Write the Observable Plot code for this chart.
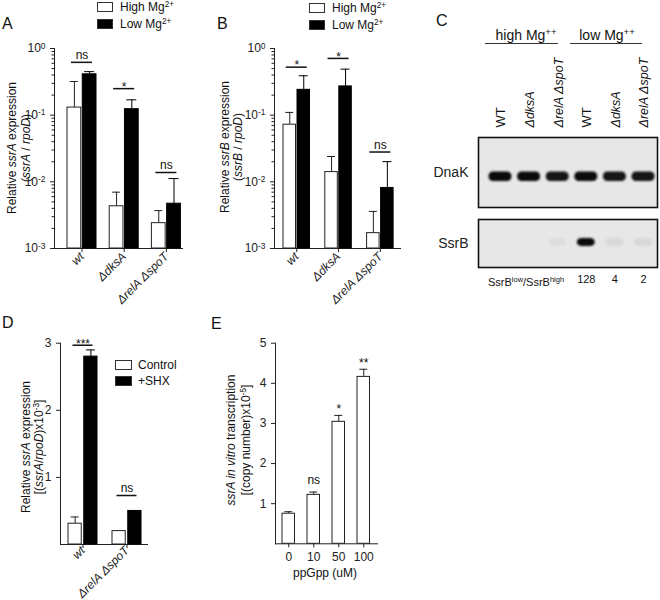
<!DOCTYPE html>
<html>
<head>
<meta charset="utf-8">
<script src="https://cdn.jsdelivr.net/npm/d3@7"></script>
<script src="https://cdn.jsdelivr.net/npm/@observablehq/plot@0.6"></script>
<style>
html,body{margin:0;padding:0;background:#fff;}
#fig{position:relative;width:660px;height:600px;overflow:hidden;font-family:"Liberation Sans",Arial,Helvetica,sans-serif;color:#111;}
#fig svg{position:absolute;}
.t{position:absolute;white-space:nowrap;line-height:1;}
.rot{position:absolute;white-space:nowrap;line-height:1;transform:translate(-50%,-50%) rotate(-90deg);font-size:12px;}
.sup{font-size:0.68em;vertical-align:0.5em;}
.sw{position:absolute;border:1px solid #333;box-sizing:border-box;}
.hl{position:absolute;height:0;border-top:1px solid #333;}
</style>
</head>
<body><div id="fig"></div>
<script>
// ---------------- DATA ----------------
// Panel A: ssrA / rpoD under high vs low Mg2+
const groupsMg = ["wt", "ΔdksA", "ΔrelA ΔspoT"];
const ssrA_high = [0.13, 0.0043, 0.0024];
const ssrA_highSD = [0.19, 0.0027, 0.0013];
const ssrA_low = [0.41, 0.123, 0.0047];
const ssrA_lowSD = [0.04, 0.047, 0.0065];
const ssrA_sig = ["ns", "*", "ns"];
const ssrA_sigY = [0.62, 0.25, 0.0138];

// Panel B: ssrB / rpoD
const ssrB_high = [0.072, 0.014, 0.0017];
const ssrB_highSD = [0.038, 0.010, 0.0019];
const ssrB_low = [0.24, 0.27, 0.0081];
const ssrB_lowSD = [0.15, 0.22, 0.012];
const ssrB_sig = ["*", "*", "ns"];
const ssrB_sigY = [0.525, 0.71, 0.028];

const logTicks = [1e-3, 1e-2, 1e-1, 1];

// Panel C: western blot
const laneIds = ["hWT", "hdksA", "hrelA", "lWT", "ldksA", "lrelA"];
const laneLabels = ["WT", "ΔdksA", "ΔrelA ΔspoT", "WT", "ΔdksA", "ΔrelA ΔspoT"];
const dnakSignal = [1, 1, 0.95, 1, 0.95, 0.95];
const ssrbSignal = [0, 0, 0.035, 1, 0.07, 0.07];
const ssrbRatio = ["", "", "", "128", "4", "2"];

// Panel D: SHX treatment
const groupsShx = ["wt", "ΔrelA ΔspoT"];
const shx_control = [0.31, 0.20];
const shx_controlSD = [0.10, 0];
const shx_treated = [2.80, 0.50];
const shx_treatedSD = [0.10, 0];
const shx_sig = ["***", "ns"];
const shx_sigY = [2.97, 0.73];

// Panel E: in vitro transcription
const ppGpp = ["0", "10", "50", "100"];
const transcription = [0.75, 1.22, 3.04, 4.16];
const transcriptionSD = [0.05, 0.07, 0.16, 0.19];
const transcriptionSig = ["", "ns", "*", "**"];

// ---------------- HELPERS ----------------
const fig = document.getElementById("fig");
const INK = "#222";
const FONT = '"Liberation Sans", Arial, Helvetica, sans-serif';

function place(svg, left, top) {
  svg.style.left = left + "px";
  svg.style.top = top + "px";
  fig.appendChild(svg);
  return svg;
}
function txt(x, y, html, fs, extra) {
  const d = document.createElement("div");
  d.className = "t";
  d.style.left = x + "px";
  d.style.top = y + "px";
  d.style.fontSize = fs + "px";
  if (extra) Object.assign(d.style, extra);
  d.innerHTML = html;
  fig.appendChild(d);
  return d;
}
function rot(cx, cy, html, fs) {
  const d = document.createElement("div");
  d.className = "rot";
  d.style.left = cx + "px";
  d.style.top = cy + "px";
  if (fs) d.style.fontSize = fs + "px";
  d.innerHTML = html;
  fig.appendChild(d);
}
function swatch(x, y, w, h, fill) {
  const d = document.createElement("div");
  d.className = "sw";
  Object.assign(d.style, {left: x + "px", top: y + "px", width: w + "px", height: h + "px", background: fill});
  fig.appendChild(d);
}
function hline(x1, x2, y) {
  const d = document.createElement("div");
  d.className = "hl";
  Object.assign(d.style, {left: x1 + "px", top: y + "px", width: (x2 - x1) + "px"});
  fig.appendChild(d);
}
function bandOpts(domain, L) {
  const n = domain.length, W = L.frameR - L.frameL;
  const O = W - (n - 1) * L.step - L.bw;
  return {domain, round: false, paddingInner: 1 - L.bw / L.step, paddingOuter: O / (2 * L.step), align: (L.bandStart - L.frameL) / O};
}
function postProcess(svg, italics) {
  svg.querySelectorAll("text").forEach(t => {
    if (t.querySelector("tspan")) return;
    const s = t.textContent;
    const m = /^10\^(-?\d+)$/.exec(s);
    if (m) {
      t.textContent = "10";
      const ts = document.createElementNS("http://www.w3.org/2000/svg", "tspan");
      ts.setAttribute("dy", "-0.45em");
      ts.setAttribute("font-size", "0.7em");
      ts.textContent = m[1];
      t.appendChild(ts);
    }
    if (italics && italics.includes(s)) t.setAttribute("font-style", "italic");
  });
}
function baseStyle(fs) {
  return {background: "transparent", overflow: "visible", fontFamily: FONT, fontSize: fs + "px", color: INK};
}

// ---------------- PAIRED BAR PANEL ----------------
function pairedPanel(cfg) {
  const L = cfg.layout;
  const rows = cfg.groups.flatMap((g, i) => [
    {group: g, cond: 0, value: cfg.a[i], sd: cfg.aSD[i]},
    {group: g, cond: 1, value: cfg.b[i], sd: cfg.bSD[i]}
  ]);
  const barW = (L.bw - L.gap) / 2;
  const off = L.bw / 2 - barW / 2;
  const A = rows.filter(d => d.cond === 0), B = rows.filter(d => d.cond === 1);
  const eA = A.filter(d => d.sd > 0), eB = B.filter(d => d.sd > 0);
  const base = cfg.yDomain[0];
  const sig = cfg.groups.map((g, i) => ({group: g, label: cfg.sig[i], y: cfg.sigY[i]}));
  const half = L.sigW / 2;
  const fw = L.frameR - L.frameL;
  const marks = [];
  if (cfg.minor) marks.push(Plot.tickY(cfg.minor, {y: d => d, insetRight: fw - 2.5, dx: -2.5, stroke: INK}));
  marks.push(
    Plot.ruleX(eA, {x: "group", y1: "value", y2: d => d.value + d.sd, dx: -off, stroke: INK}),
    Plot.ruleX(eB, {x: "group", y1: "value", y2: d => d.value + d.sd, dx: off, stroke: "#000"}),
    Plot.barY(A, {x: "group", y1: base, y2: "value", fill: "white", stroke: INK, strokeWidth: 1, insetRight: L.bw - barW}),
    Plot.barY(B, {x: "group", y1: base, y2: "value", fill: "black", stroke: "#000", strokeWidth: 1, insetLeft: L.bw - barW}),
    Plot.tickY(eA, {x: "group", y: d => d.value + d.sd, stroke: INK, insetLeft: barW / 2 - L.capA / 2, insetRight: L.bw - barW / 2 - L.capA / 2}),
    Plot.tickY(eB, {x: "group", y: d => d.value + d.sd, stroke: "#000", insetLeft: L.bw - barW / 2 - L.capB / 2, insetRight: barW / 2 - L.capB / 2}),
    Plot.tickY(sig, {x: "group", y: "y", stroke: "#111", strokeWidth: 1.5, insetLeft: L.bw / 2 - half, insetRight: L.bw / 2 - half}),
    Plot.text(sig.filter(d => d.label === "ns"), {x: "group", y: "y", text: "label", dy: -7, fontSize: 12, fill: "#111"}),
    Plot.text(sig.filter(d => d.label !== "ns"), {x: "group", y: "y", text: "label", dy: -1.5, fontSize: 12, fill: "#111"})
  );
  const svg = Plot.plot({
    width: L.width, height: L.height,
    marginLeft: L.frameL - L.left, marginRight: L.left + L.width - L.frameR,
    marginTop: L.frameT - L.top, marginBottom: L.top + L.height - L.frameB,
    style: baseStyle(12),
    x: {...bandOpts(cfg.groups, L), label: null, tickSize: 4, tickPadding: L.xPad, tickRotate: -45, line: true},
    y: {type: cfg.yType, domain: cfg.yDomain, ticks: cfg.yTicks, tickFormat: cfg.yFormat, tickSize: 4, line: true, label: null},
    marks
  });
  postProcess(svg, cfg.groups);
  return place(svg, L.left, L.top);
}

const logMinor = [];
[1e-3, 1e-2, 1e-1].forEach(p => [2, 3, 4, 5, 6, 7, 8, 9].forEach(k => logMinor.push(p * k)));
const logFmt = d => "10^" + Math.round(Math.log10(d));

// Panel A
pairedPanel({
  groups: groupsMg, a: ssrA_high, aSD: ssrA_highSD, b: ssrA_low, bSD: ssrA_lowSD,
  sig: ssrA_sig, sigY: ssrA_sigY, yType: "log", yDomain: [1e-3, 1], yTicks: logTicks, yFormat: logFmt, minor: logMinor,
  layout: {left: 0, top: 0, width: 205, height: 300, frameL: 54, frameR: 182, frameT: 48, frameB: 248,
    bandStart: 67, bw: 29, step: 42.2, gap: 1.5, capA: 8, capB: 10, sigW: 21, xPad: 2}
});
// Panel B
pairedPanel({
  groups: groupsMg, a: ssrB_high, aSD: ssrB_highSD, b: ssrB_low, bSD: ssrB_lowSD,
  sig: ssrB_sig, sigY: ssrB_sigY, yType: "log", yDomain: [1e-3, 1], yTicks: logTicks, yFormat: logFmt, minor: logMinor,
  layout: {left: 220, top: 0, width: 200, height: 300, frameL: 274, frameR: 400, frameT: 48, frameB: 248,
    bandStart: 283, bw: 26.5, step: 41.8, gap: 1.5, capA: 8, capB: 9, sigW: 21, xPad: 2}
});
// Panel D
pairedPanel({
  groups: groupsShx, a: shx_control, aSD: shx_controlSD, b: shx_treated, bSD: shx_treatedSD,
  sig: shx_sig, sigY: shx_sigY, yType: "linear", yDomain: [0, 3], yTicks: [1, 2, 3], yFormat: d => String(d), minor: null,
  layout: {left: 0, top: 300, width: 180, height: 300, frameL: 60, frameR: 147, frameT: 342.7, frameB: 544,
    bandStart: 68, bw: 29, step: 44, gap: 2.5, capA: 8, capB: 9, sigW: 20, xPad: 0}
});

// Panel E
(function () {
  const L = {left: 220, top: 300, width: 180, height: 300, frameL: 275, frameR: 377, frameT: 342.7, frameB: 543.3,
    bandStart: 282, bw: 12.5, step: 25, cap: 8};
  const rows = ppGpp.map((c, i) => ({c, v: transcription[i], sd: transcriptionSD[i], sig: transcriptionSig[i]}));
  const svg = Plot.plot({
    width: L.width, height: L.height,
    marginLeft: L.frameL - L.left, marginRight: L.left + L.width - L.frameR,
    marginTop: L.frameT - L.top, marginBottom: L.top + L.height - L.frameB,
    style: baseStyle(12),
    x: {...bandOpts(ppGpp, L), label: null, tickSize: 4, line: true},
    y: {domain: [0, 5], ticks: [1, 2, 3, 4, 5], tickFormat: d => String(d), tickSize: 4, line: true, label: null},
    marks: [
      Plot.ruleX(rows, {x: "c", y1: "v", y2: d => d.v + d.sd, stroke: INK}),
      Plot.barY(rows, {x: "c", y1: 0, y2: "v", fill: "white", stroke: INK}),
      Plot.tickY(rows, {x: "c", y: d => d.v + d.sd, stroke: INK, insetLeft: L.bw / 2 - L.cap / 2, insetRight: L.bw / 2 - L.cap / 2}),
      Plot.text(rows.filter(d => d.sig === "ns"), {x: "c", y: d => d.v + d.sd, text: "sig", dy: -12, fontSize: 12, fill: "#111"}),
      Plot.text(rows.filter(d => d.sig && d.sig !== "ns"), {x: "c", y: d => d.v + d.sd, text: "sig", dy: -6, fontSize: 12, fill: "#111"})
    ]
  });
  postProcess(svg, null);
  place(svg, L.left, L.top);
})();

// Panel C: blot rows
function blotRow(o) {
  const L = {frameL: 478, frameR: 657, bw: 26, step: 28.6, bandStart: 487};
  const rows = laneIds.map((id, i) => ({lane: id, label: laneLabels[i], v: o.values[i], r: ssrbRatio[i]}));
  const marks = [
    Plot.frame({fill: "#e7e7e7", stroke: "none"}),
    Plot.cell(rows.filter(d => d.v > 0), {x: "lane", y: () => o.name, fill: "#0a0a0a", fillOpacity: "v",
      insetTop: o.bandTop - o.frameT, insetBottom: o.frameB - o.bandTop - o.bandH,
      insetLeft: o.inset, insetRight: o.inset, rx: 4.5}),
    Plot.frame({stroke: "#111", strokeWidth: 1.6})
  ];
  if (o.laneLabels) {
    marks.push(
      Plot.text(rows.filter(d => d.label === "WT"), {x: "lane", text: "label", frameAnchor: "top", dx: -5, dy: -10, rotate: -90, textAnchor: "start", fontSize: 13, fill: "#111"}),
      Plot.text(rows.filter(d => d.label !== "WT"), {x: "lane", text: "label", frameAnchor: "top", dx: -4, dy: -10, rotate: -90, textAnchor: "start", fontSize: 12.5, fontStyle: "italic", fill: "#111"})
    );
  }
  if (o.ratios) {
    marks.push(Plot.text(rows.filter(d => d.r), {x: "lane", text: "r", frameAnchor: "bottom", dy: 15, fontSize: 11, fill: "#111"}));
  }
  const svg = Plot.plot({
    width: 660 - o.left, height: o.height,
    marginLeft: L.frameL - o.left, marginRight: 660 - L.frameR,
    marginTop: o.frameT - o.top, marginBottom: o.top + o.height - o.frameB,
    style: baseStyle(14),
    x: {...bandOpts(laneIds, L), axis: null},
    y: {domain: [o.name], padding: 0, tickSize: 0, tickPadding: 10, label: null},
    marks
  });
  svg.querySelectorAll('g[aria-label="cell"] rect').forEach(r => r.style.filter = "blur(1.1px)");
  return place(svg, o.left, o.top);
}
blotRow({name: "DnaK", values: dnakSignal, left: 420, top: 0, height: 212, frameT: 137, frameB: 207,
  bandTop: 171.5, bandH: 9.5, inset: 1.5, laneLabels: true});
blotRow({name: "SsrB", values: ssrbSignal, left: 420, top: 200, height: 100, frameT: 219, frameB: 267,
  bandTop: 238, bandH: 8, inset: 4, ratios: true});

// ---------------- TEXT / LEGENDS ----------------
const sup = s => `<span class="sup">${s}</span>`;
// panel letters
txt(2, 16, "A", 16);
txt(217, 16, "B", 16);
txt(436, 13, "C", 16);
txt(2, 315, "D", 16);
txt(211, 316, "E", 16);

// legends A, B
swatch(97, 2, 16, 10, "white");
swatch(97, 19, 16, 10, "black");
txt(120, 1, "High Mg" + sup("2+"), 12);
txt(120, 18, "Low Mg" + sup("2+"), 12);
swatch(309, 3, 16, 10, "white");
swatch(309, 20, 16, 10, "black");
txt(332, 2, "High Mg" + sup("2+"), 12);
txt(332, 19, "Low Mg" + sup("2+"), 12);
// legend D
swatch(115, 360, 17, 10, "white");
swatch(115, 376, 17, 10, "black");
txt(138, 359, "Control", 12);
txt(138, 375, "+SHX", 12);

// axis titles
rot(12, 148, "Relative <i>ssrA</i> expression");
rot(26, 148, "(<i>ssrA</i> / <i>rpoD</i>)");
rot(225, 147, "Relative <i>ssrB</i> expression");
rot(238, 147, "(<i>ssrB</i> / <i>rpoD</i>)");
rot(26, 447, "Relative <i>ssrA</i> expression");
rot(39, 447, "[(<i>ssrA</i>/<i>rpoD</i>)x10" + sup("-3") + "]");
rot(231, 440, "<i>ssrA in vitro</i> transcription");
rot(246, 440, "[(copy number)x10" + sup("-5") + "]");
const xt = txt(325, 567, "ppGpp (uM)", 12);
xt.style.transform = "translateX(-50%)";

// panel C header
const h1 = txt(526, 27, "high Mg" + sup("++"), 14); h1.style.transform = "translateX(-50%)";
const h2 = txt(607, 27, "low Mg" + sup("++"), 14); h2.style.transform = "translateX(-50%)";
hline(485, 558, 43);
hline(570, 642, 43);
txt(488, 276, "SsrB" + sup("low") + "/SsrB" + sup("high"), 11);
</script>
</body>
</html>
